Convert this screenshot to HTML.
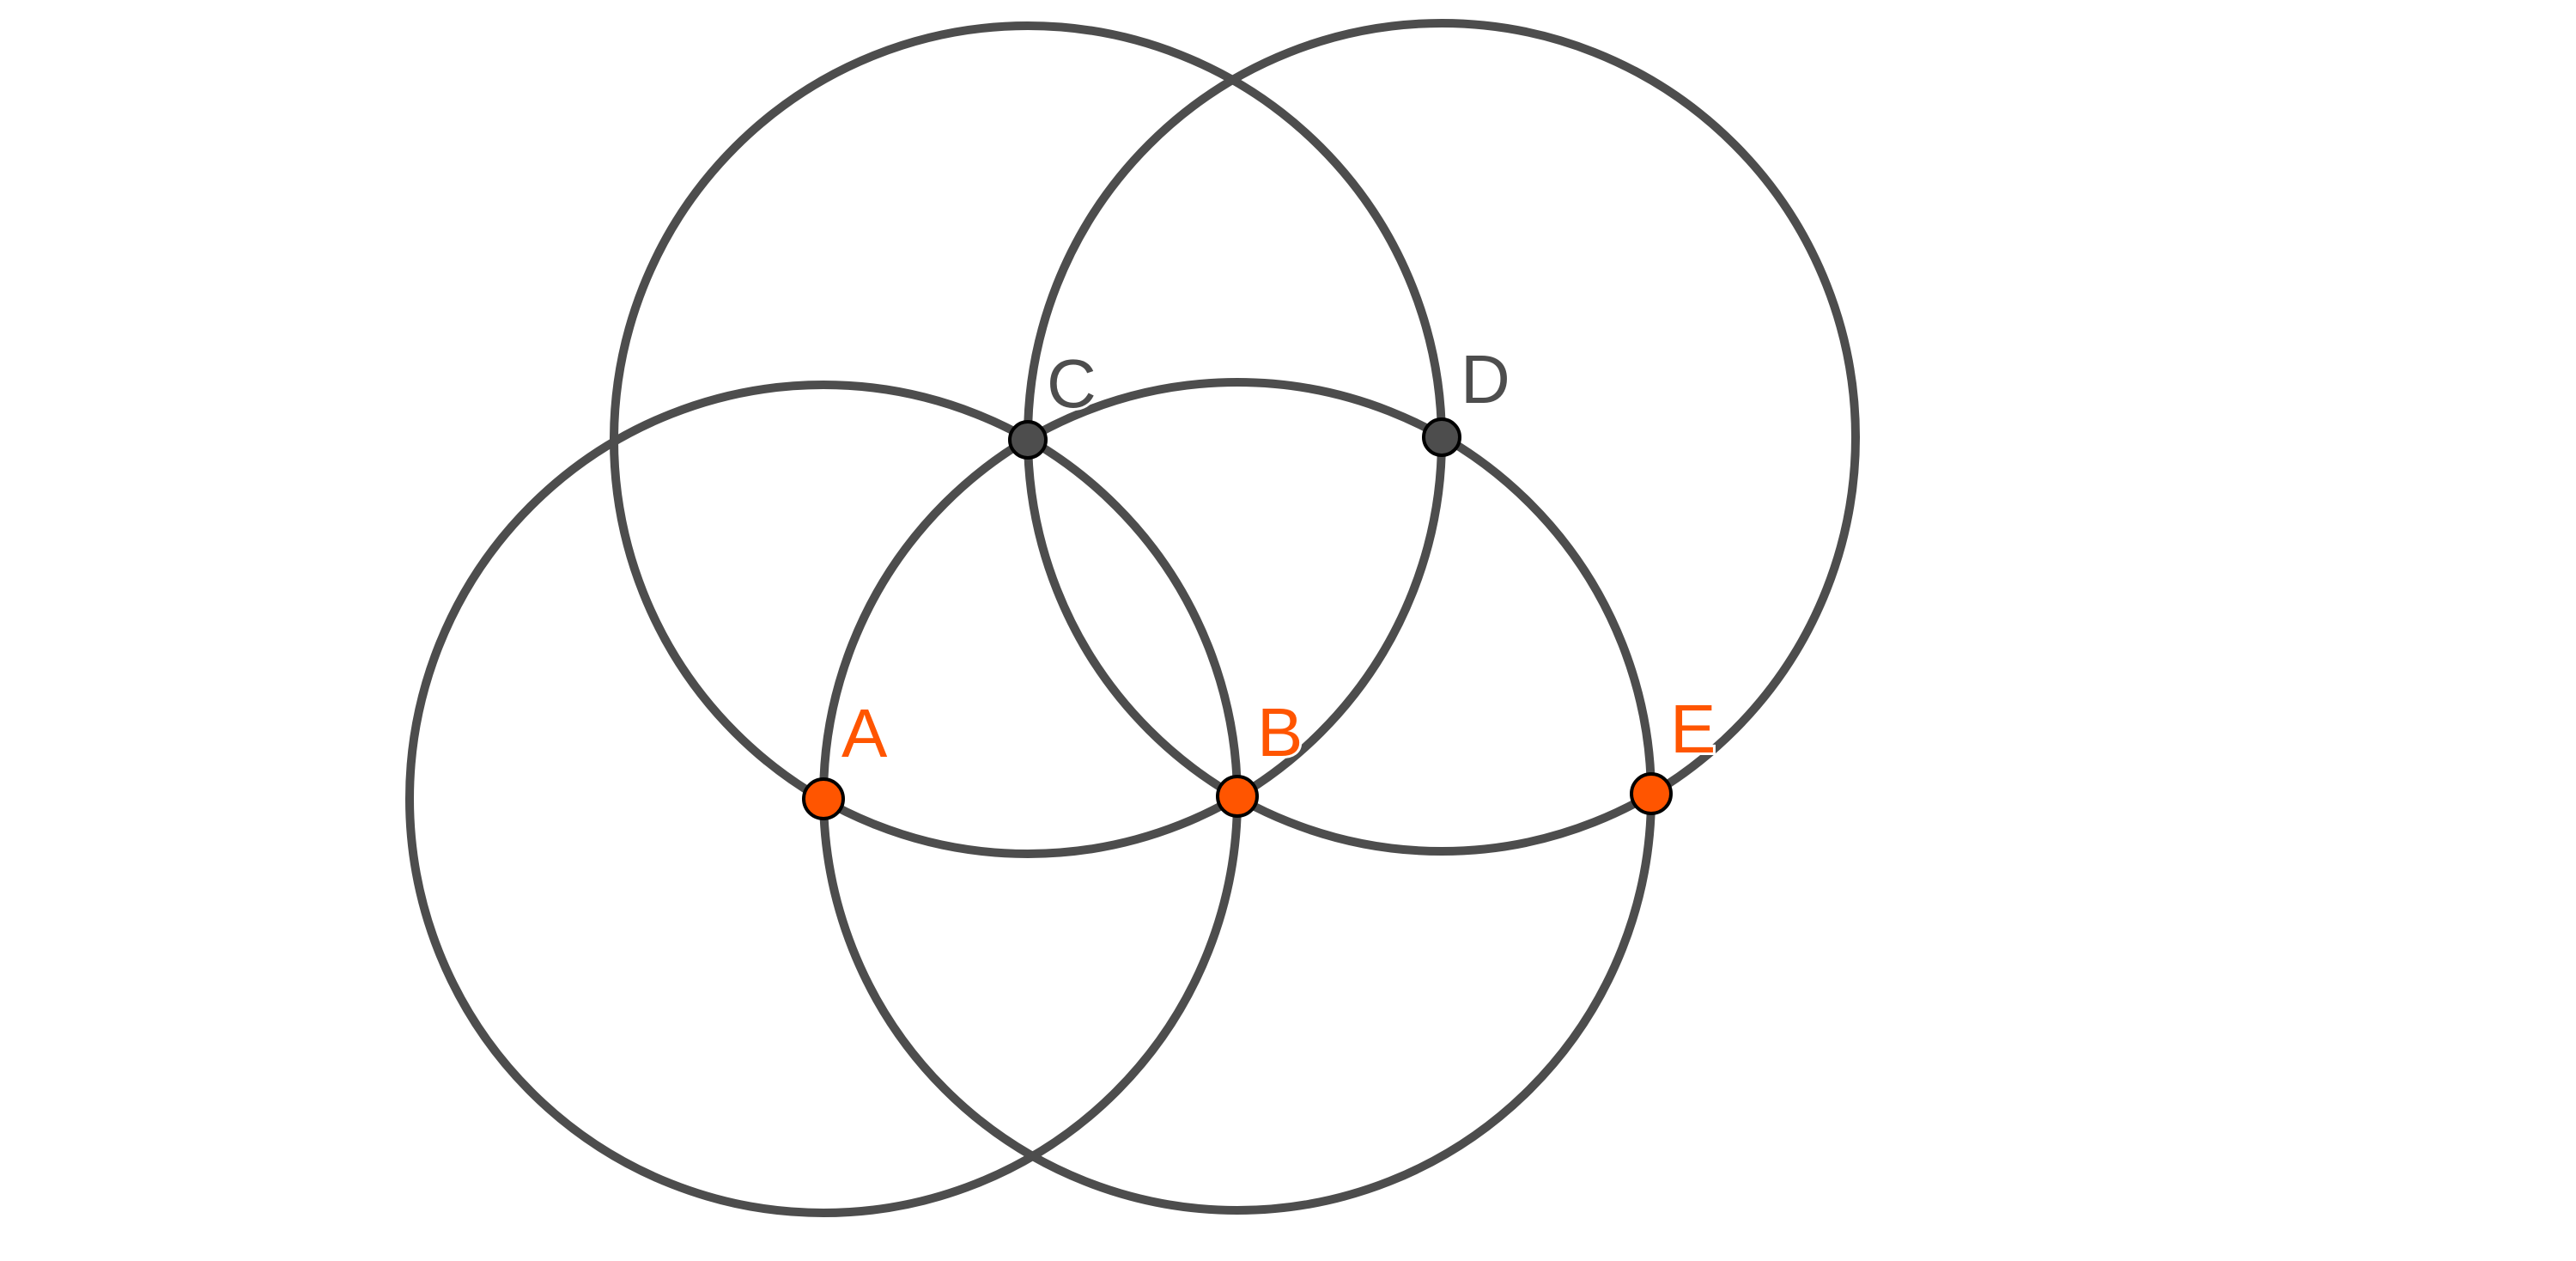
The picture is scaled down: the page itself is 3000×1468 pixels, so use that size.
<!DOCTYPE html>
<html><head><meta charset="utf-8"><style>html,body{margin:0;padding:0;background:#fff}svg{display:block}</style></head>
<body>
<svg width="3000" height="1468" viewBox="0 0 3000 1468" xmlns="http://www.w3.org/2000/svg">
<g fill="none" stroke="#4d4d4d" stroke-width="10">
<circle cx="959" cy="930" r="482"/>
<circle cx="1441" cy="927" r="482"/>
<circle cx="1197" cy="512" r="482"/>
<circle cx="1679" cy="509" r="482"/>
</g>
<g font-family="Liberation Sans, sans-serif" font-size="80" stroke="#fff" stroke-width="6" paint-order="stroke">
<text x="980" y="881" fill="#ff5500">A</text>
<text x="1464" y="880" fill="#ff5500">B</text>
<text x="1945" y="876" fill="#ff5500">E</text>
<text x="1219" y="474" fill="#4d4d4d">C</text>
<text x="1701" y="469" fill="#4d4d4d">D</text>
</g>
<g stroke="#000" stroke-width="4">
<circle cx="959" cy="930" r="23" fill="#ff5500"/>
<circle cx="1441" cy="927" r="23" fill="#ff5500"/>
<circle cx="1923" cy="924" r="23" fill="#ff5500"/>
<circle cx="1197" cy="512" r="21" fill="#4d4d4d"/>
<circle cx="1679" cy="509" r="21" fill="#4d4d4d"/>
</g>
</svg>
</body></html>
